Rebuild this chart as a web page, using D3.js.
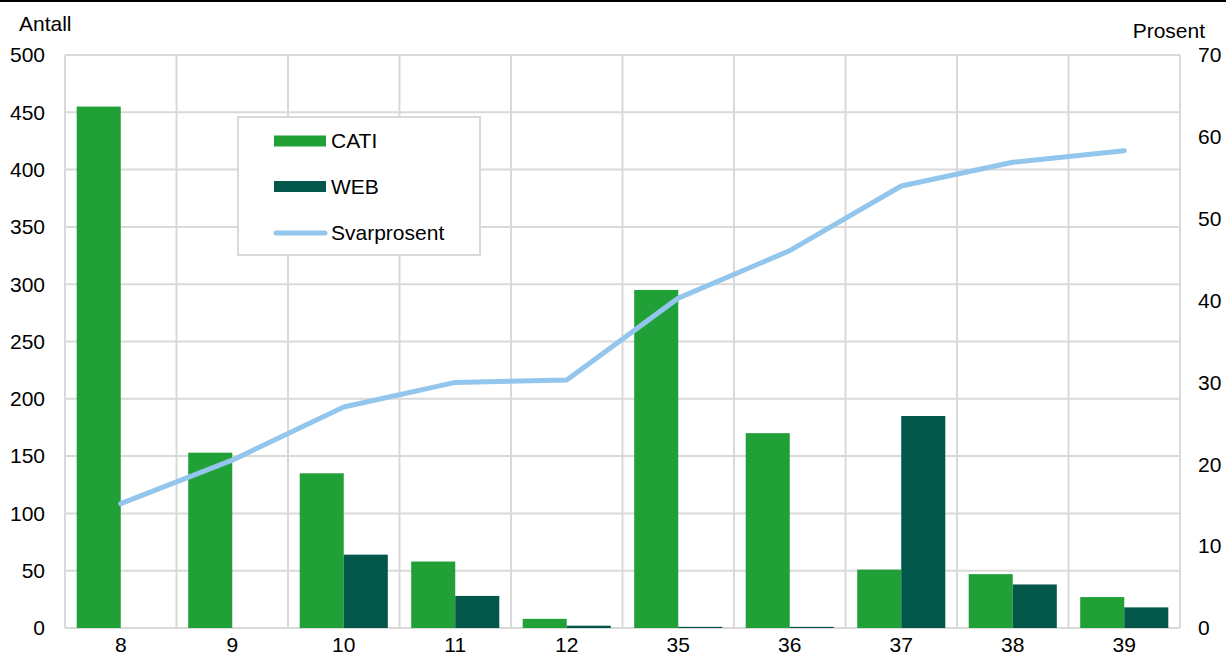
<!DOCTYPE html>
<html>
<head>
<meta charset="utf-8">
<script src="https://cdn.jsdelivr.net/npm/d3@7"></script>
<style>
  html, body { margin: 0; padding: 0; background: #fff; }
  svg { display: block; font-family: "Liberation Sans", Arial, sans-serif; }
</style>
</head>
<body>
<div id="chart"></div>
<script>
// Antall svar per runde (CATI / WEB) og svarprosent
const categories = ["8", "9", "10", "11", "12", "35", "36", "37", "38", "39"];
const cati = [455, 153, 135, 58, 8, 295, 170, 51, 47, 27];
const web = [0, 0, 64, 28, 2, 1, 1, 185, 38, 18];
const svarprosent = [15.2, 20.5, 27.0, 30.0, 30.3, 40.3, 46.1, 54.0, 56.9, 58.3];
const leftTicks = [0, 50, 100, 150, 200, 250, 300, 350, 400, 450, 500];
const rightTicks = [0, 10, 20, 30, 40, 50, 60, 70];

const WIDTH = 1226, HEIGHT = 655;
const margin = {top: 55, right: 46, bottom: 27, left: 65};
const plotR = WIDTH - margin.right;
const plotB = HEIGHT - margin.bottom;

const colCati = "#21a038";
const colWeb = "#02574a";
const colLine = "#93c6ec";
const colGrid = "#d9d9d9";

const svg = d3.select("#chart").append("svg")
  .attr("width", WIDTH)
  .attr("height", HEIGHT);

// top rule
svg.append("rect").attr("x", 0).attr("y", 0).attr("width", WIDTH).attr("height", 2).attr("fill", "#000");

// scales
const x0 = d3.scaleBand().domain(categories).range([margin.left, plotR]).padding(0);
const x1 = d3.scaleBand().domain(["CATI", "WEB"])
  .range([x0.bandwidth() * 0.105, x0.bandwidth() * 0.895]).padding(0);
const yL = d3.scaleLinear().domain([0, 500]).range([plotB, margin.top]);
const yR = d3.scaleLinear().domain([0, 70]).range([plotB, margin.top]);

// grid
const grid = svg.append("g").attr("stroke", colGrid).attr("stroke-width", 2);
grid.selectAll("line.h").data(leftTicks).enter().append("line")
  .attr("x1", margin.left).attr("x2", plotR)
  .attr("y1", d => yL(d)).attr("y2", d => yL(d));
const bounds = categories.map(c => x0(c)).concat([plotR]);
grid.selectAll("line.v").data(bounds).enter().append("line")
  .attr("x1", d => d).attr("x2", d => d)
  .attr("y1", margin.top).attr("y2", plotB);

// bars
const groups = svg.append("g").selectAll("g")
  .data(categories.map((c, i) => ({c, vals: [{k: "CATI", v: cati[i]}, {k: "WEB", v: web[i]}]})))
  .enter().append("g")
  .attr("transform", d => `translate(${x0(d.c)},0)`);
groups.selectAll("rect").data(d => d.vals).enter().append("rect")
  .attr("x", d => x1(d.k))
  .attr("width", x1.bandwidth())
  .attr("y", d => yL(d.v))
  .attr("height", d => plotB - yL(d.v))
  .attr("fill", d => d.k === "CATI" ? colCati : colWeb);

// line
const line = d3.line()
  .x((d, i) => x0(categories[i]) + x0.bandwidth() / 2)
  .y(d => yR(d));
svg.append("path").datum(svarprosent)
  .attr("d", line)
  .attr("fill", "none")
  .attr("stroke", colLine)
  .attr("stroke-width", 5)
  .attr("stroke-linecap", "round")
  .attr("stroke-linejoin", "round");

// axes (labels only)
const fs = 21;
svg.append("g").selectAll("text").data(leftTicks).enter().append("text")
  .attr("x", 45).attr("y", d => yL(d)).attr("dy", "0.35em")
  .attr("text-anchor", "end").attr("font-size", fs).attr("fill", "#000")
  .text(d => d);
svg.append("g").selectAll("text").data(rightTicks).enter().append("text")
  .attr("x", 1198).attr("y", d => yR(d)).attr("dy", "0.35em")
  .attr("text-anchor", "start").attr("font-size", fs).attr("fill", "#000")
  .text(d => d);
svg.append("g").selectAll("text").data(categories).enter().append("text")
  .attr("x", d => x0(d) + x0.bandwidth() / 2).attr("y", 652)
  .attr("text-anchor", "middle").attr("font-size", fs).attr("fill", "#000")
  .text(d => d);

svg.append("text").attr("x", 19).attr("y", 31).attr("font-size", fs).text("Antall");
svg.append("text").attr("x", 1205).attr("y", 38).attr("text-anchor", "end").attr("font-size", fs).text("Prosent");

// legend
const lg = svg.append("g");
lg.append("rect").attr("x", 238).attr("y", 117).attr("width", 242).attr("height", 138)
  .attr("fill", "#fff").attr("stroke", colGrid).attr("stroke-width", 2);
const legendItems = [
  {name: "CATI", type: "bar", color: colCati, y: 141},
  {name: "WEB", type: "bar", color: colWeb, y: 186.5},
  {name: "Svarprosent", type: "line", color: colLine, y: 233}
];
legendItems.forEach(it => {
  if (it.type === "bar") {
    lg.append("rect").attr("x", 274).attr("y", it.y - 5.5).attr("width", 52).attr("height", 11).attr("fill", it.color);
  } else {
    lg.append("line").attr("x1", 276).attr("x2", 325).attr("y1", it.y).attr("y2", it.y)
      .attr("stroke", it.color).attr("stroke-width", 5).attr("stroke-linecap", "round");
  }
  lg.append("text").attr("x", 331).attr("y", it.y).attr("dy", "0.35em")
    .attr("font-size", fs).attr("fill", "#000").text(it.name);
});
</script>
</body>
</html>
